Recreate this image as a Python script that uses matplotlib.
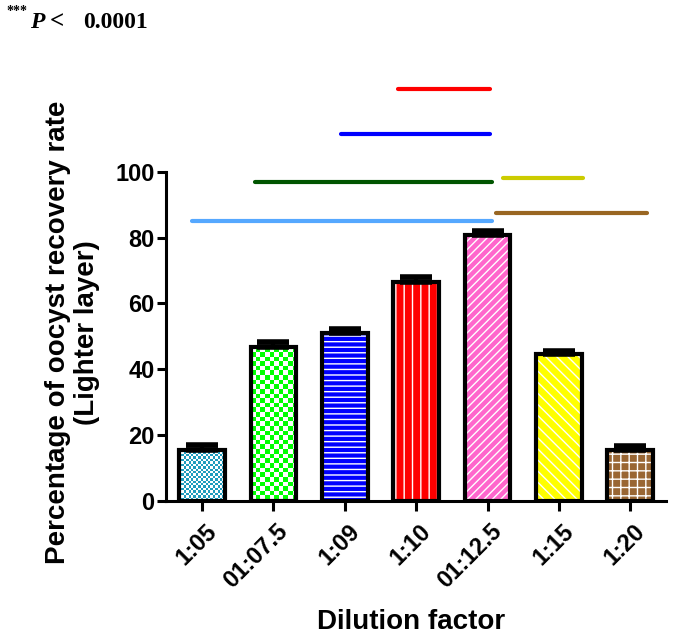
import numpy as np
import matplotlib
matplotlib.use("Agg")
import matplotlib.pyplot as plt
from matplotlib.colors import ListedColormap
from matplotlib.transforms import ScaledTranslation

categories = ["1:05", "01:07.5", "1:09", "1:10", "01:12.5", "1:15", "1:20"]
values = [15.4, 46.6, 51.0, 66.5, 80.8, 44.6, 15.5]
errors = [1.5, 1.5, 1.2, 1.5, 1.1, 1.0, 1.2]
bar_colors = ["#1e9cbd", "#00ff00", "#0000ff", "#ff0000", "#ff66cc", "#ffff00", "#996633"]
# pattern: ("checker", cell_px) or ("hatch", hatch string)
patterns = [("checker", 2.4), ("checker", 4.6), ("hatch", "---"), ("hatch", "||"),
            ("hatch", "////"), ("hatch", "\\\\\\"), ("hatch", "++")]

# significance lines: (x_start, x_end, y, color)
sig_x0 = [2.75, 1.95, 0.74, -0.14, 4.22, 4.12]
sig_x1 = [4.03, 4.03, 4.06, 4.06, 5.34, 6.23]
sig_y = [125.3, 111.6, 97.0, 85.1, 98.2, 87.5]
sig_colors = ["#ff0000", "#0000ff", "#005500", "#55a8ff", "#cccc00", "#996622"]

plt.rcParams["font.family"] = ["Liberation Sans", "DejaVu Sans"]
plt.rcParams["font.weight"] = "bold"
plt.rcParams["hatch.linewidth"] = 1.0

W, H = 675, 635
fig = plt.figure(figsize=(W / 100, H / 100), dpi=100)
ax_left, ax_right = 166.3, 666.0
ax_top, ax_bot = 73.4, 500.5
ax = fig.add_axes([ax_left / W, (H - ax_bot) / H, (ax_right - ax_left) / W, (ax_bot - ax_top) / H])

xmin, xmax, ymin, ymax = -0.5, 6.5, 0, 130
ax.set_xlim(xmin, xmax)
ax.set_ylim(ymin, ymax)
px_per_x = (ax_right - ax_left) / (xmax - xmin)
px_per_y = (ax_bot - ax_top) / (ymax - ymin)

x = np.arange(len(categories))
width = 0.64

for i, (xi, v, c, pat) in enumerate(zip(x, values, bar_colors, patterns)):
    kind, p = pat
    if kind == "hatch":
        ax.bar(xi, v, width, color=c, edgecolor="white", hatch=p, linewidth=0, zorder=2)
    else:
        base = ax.bar(xi, v, width, color=c, linewidth=0, zorder=2)[0]
        cx = p / px_per_x
        cy = p / px_per_y
        nx = int(np.ceil(width / cx))
        ny = int(np.ceil(v / cy))
        arr = (np.add.outer(np.arange(ny), np.arange(nx)) % 2).astype(float)
        x0 = xi - width / 2
        im = ax.imshow(arr, cmap=ListedColormap(["white", c]), vmin=0, vmax=1,
                       extent=(x0, x0 + nx * cx, 0, ny * cy), origin="lower",
                       interpolation="nearest", aspect="auto", zorder=2.1)
        im.set_clip_path(base)

ax.errorbar(x, values, yerr=[np.zeros(len(values)), errors], fmt="none",
            ecolor="black", elinewidth=3, capsize=11.5, capthick=4, zorder=2.5)
ax.bar(x, values, width, facecolor="none", edgecolor="black", linewidth=3, zorder=3)

for x0_, x1_, y_, c_ in zip(sig_x0, sig_x1, sig_y, sig_colors):
    ax.plot([x0_, x1_], [y_, y_], color=c_, lw=3, solid_capstyle="round", zorder=4,
            clip_on=False)

ax.set_xlim(xmin, xmax)
ax.set_ylim(ymin, ymax)

for s in ["top", "right"]:
    ax.spines[s].set_visible(False)
ax.spines["left"].set_linewidth(2.2)
ax.spines["bottom"].set_linewidth(2.2)
ax.spines["left"].set_bounds(0, 100)

ax.set_yticks([0, 20, 40, 60, 80, 100])
ax.set_xticks(x)
ax.set_xticklabels(categories, rotation=45, ha="right", rotation_mode="anchor")
ax.tick_params(axis="y", direction="out", length=6.5, width=2.2, labelsize=17, pad=2)
ax.tick_params(axis="x", direction="out", length=7, width=2.2, labelsize=17, pad=7)
shift = ScaledTranslation(3 / 100, 0, fig.dpi_scale_trans)
for lab in ax.get_xticklabels():
    lab.set_transform(lab.get_transform() + shift)
for lab in ax.get_xticklabels() + ax.get_yticklabels():
    lab.set_fontweight("bold")

ax.set_ylabel("Percentage of oocyst recovery rate\n(Lighter layer)", fontsize=20,
              fontweight="bold", linespacing=1.15)
ax.yaxis.set_label_coords(-0.133, 0.394)
ax.set_xlabel("Dilution factor", fontsize=20, fontweight="bold")
ax.xaxis.set_label_coords(0.49, -0.254)

# P-value note
serif = ["Liberation Serif", "DejaVu Serif"]
fig.text(6 / W, 1 - 15 / H, "***", family=serif, fontsize=10, fontweight="bold", va="baseline")
fig.text(30 / W, 1 - 28 / H, "P", family=serif, fontsize=17, fontweight="bold",
         style="italic", va="baseline")
fig.text(50 / W, 1 - 28 / H, "<", family=serif, fontsize=18, fontweight="bold", va="baseline")
fig.text(83 / W, 1 - 28 / H, "0.0001", family=serif, fontsize=17, fontweight="bold", va="baseline")

fig.savefig("out.png", dpi=100)
